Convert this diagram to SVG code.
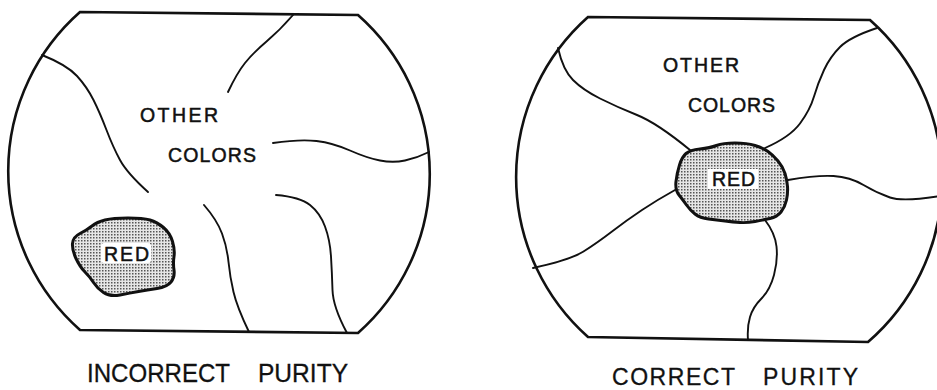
<svg xmlns="http://www.w3.org/2000/svg" width="937" height="390" viewBox="0 0 937 390">
<style>
.outline{fill:none;stroke:#111;stroke-width:2.6;stroke-linejoin:miter}
.line{fill:none;stroke:#111;stroke-width:1.9;stroke-linecap:round}
.blob{fill:url(#dots);stroke:#111;stroke-width:3;stroke-linejoin:round}
.lbl{font-family:"Liberation Sans",Arial,sans-serif;font-size:19.5px;fill:#111;stroke:#111;stroke-width:0.5}
.cap{font-family:"Liberation Sans",Arial,sans-serif;fill:#111;stroke:#111;stroke-width:0.3}
.hole{fill:#fff}
</style>
<defs>
<pattern id="dots" width="3" height="3" patternUnits="userSpaceOnUse">
<rect width="3" height="3" fill="#e6e6e6"/>
<rect x="0" y="0" width="1.5" height="1.5" fill="#555"/>
</pattern>
</defs>
<rect width="937" height="390" fill="#fff"/>

<g id="screen-incorrect">
<path class="outline" d="M 80,12 L 358,15 A 212 212 0 0 1 358,333 L 80,330 A 212 212 0 0 1 80,12 Z"/>
<g id="regions-incorrect">
<path class="line" d="M 42,55 Q 67,65 77,76 Q 87,87 93.5,100 Q 100,113 106.5,130 Q 113,147 120,160 Q 127,173 148,192"/>
<path class="line" d="M 293,15 Q 280,30 266.5,41.5 Q 253,53 245,63 Q 237,73 228,92"/>
<path class="line" d="M 273,143 Q 300,139 316.5,141 Q 333,143 350,150.5 Q 367,158 380,160.5 Q 393,163 405,160.5 Q 417,158 429,152"/>
<path class="line" d="M 204,205 Q 217,220 222,233.5 Q 227,247 228.5,262 Q 230,277 233.5,292 Q 237,307 249,332"/>
<path class="line" d="M 276,195 Q 300,197 310,205 Q 320,213 325,226.5 Q 330,240 331,256.5 Q 332,273 332.5,290 Q 333,307 347,333"/>
</g>
<g id="red-incorrect">
<path class="blob" d="M 105,220 Q 113,218 128,218 Q 143,218 150,220 Q 157,222 163.5,227.5 Q 170,233 172.5,241.5 Q 175,250 174,256.5 Q 173,263 174,270 Q 175,277 171,282 Q 167,287 157,288.5 Q 147,290 138.5,291.5 Q 130,293 120,295 Q 110,297 103.5,292.5 Q 97,288 93.5,282.5 Q 90,277 85,272 Q 80,267 76,258.5 Q 72,250 72.5,243.5 Q 73,237 80,233.5 Q 87,230 92,226 Q 97,222 105,220 Z"/>
<rect class="hole" x="101" y="243" width="50" height="20" rx="3"/>
<text class="lbl" x="104" y="260.5" textLength="45" lengthAdjust="spacing">RED</text>
</g>
<text class="lbl" x="140" y="122" textLength="78" lengthAdjust="spacing">OTHER</text>
<text class="lbl" x="168" y="162" textLength="88" lengthAdjust="spacing">COLORS</text>
<text class="cap" font-size="26" y="382"><tspan x="87" textLength="143" lengthAdjust="spacingAndGlyphs">INCORRECT</tspan><tspan x="258" textLength="90" lengthAdjust="spacingAndGlyphs">PURITY</tspan></text>
</g>

<g id="screen-correct">
<path class="outline" d="M 588,17 L 870,20 A 214 214 0 0 1 868,342 L 588,337 A 214 214 0 0 1 588,17 Z"/>
<g id="regions-correct">
<path class="line" d="M 558,48 Q 563,70 573,80 Q 583,90 600,98.5 Q 617,107 637,115 Q 657,123 690,150"/>
<path class="line" d="M 765,148 Q 790,137 800,123.5 Q 810,110 814,96.5 Q 818,83 824,70 Q 830,57 840,47 Q 850,37 877,28"/>
<path class="line" d="M 788,180 Q 817,175 833.5,176 Q 850,177 863.5,185 Q 877,193 890,197.5 Q 903,202 940,196"/>
<path class="line" d="M 675,190 Q 657,200 642,210 Q 627,220 612,231.5 Q 597,243 583.5,251.5 Q 570,260 533,268"/>
<path class="line" d="M 765,220 Q 775,233 776.5,246.5 Q 778,260 774,275 Q 770,290 761.5,298.5 Q 753,307 750,317 Q 747,327 748,340"/>
</g>
<g id="red-correct">
<path class="blob" d="M 700,149 Q 710,148 716.5,145.5 Q 723,143 735,143 Q 747,143 755,145.5 Q 763,148 768,151.5 Q 773,155 778,161 Q 783,167 785,173.5 Q 787,180 787.5,186.5 Q 788,193 786.5,200 Q 785,207 781,212 Q 777,217 770,218.5 Q 763,220 755,221.5 Q 747,223 740,222.5 Q 733,222 725,221 Q 717,220 708.5,219 Q 700,218 695,214 Q 690,210 686.5,205 Q 683,200 679,195 Q 675,190 676,181.5 Q 677,173 679.5,165 Q 682,157 686,153.5 Q 690,150 700,149 Z"/>
<rect class="hole" x="708" y="169" width="50" height="20"/>
<text class="lbl" x="712" y="186" textLength="43" lengthAdjust="spacing">RED</text>
</g>
<text class="lbl" x="663" y="72" textLength="76" lengthAdjust="spacing">OTHER</text>
<text class="lbl" x="688" y="112" textLength="87" lengthAdjust="spacing">COLORS</text>
<text class="cap" font-size="23" y="385"><tspan x="612" textLength="123" lengthAdjust="spacing">CORRECT</tspan><tspan x="763" textLength="95" lengthAdjust="spacing">PURITY</tspan></text>
</g>
</svg>
